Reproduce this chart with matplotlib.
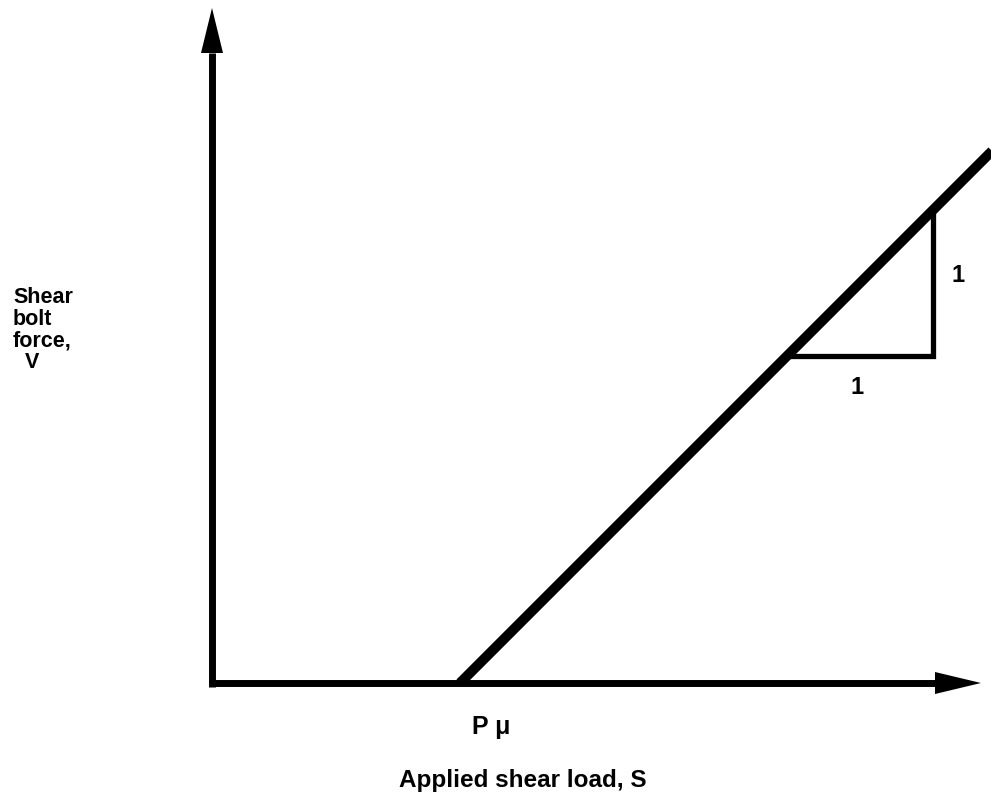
import matplotlib
matplotlib.use("Agg")
import matplotlib.pyplot as plt
from matplotlib.patches import Polygon
import numpy as np

# ---- data (diagram units, origin at axes corner) ----
p_mu = 248.0            # friction load P*mu where bolt starts to carry shear
slope = 1.0             # V/S slope after slip
line_x = [p_mu, 800.0]  # applied shear load S range of the rising branch
tri_x = [575.0, 721.0]  # slope triangle horizontal extent
x_axis_end = 723.0
y_axis_end = 630.0
labels_y = ["Shear", "bolt", "force,", "V"]
x_label = "Applied shear load, S"
pmu_label = "P \u03bc"
tri_labels = ["1", "1"]

fig = plt.figure(figsize=(9.91, 8.0), dpi=100)
ax = fig.add_axes([0, 0, 1, 1])
ax.set_xlim(-212, 779)
ax.set_ylim(-117, 683)
ax.axis("off")

k = "black"
# axes lines
ax.plot([-2, x_axis_end], [0, 0], color=k, lw=5.0, solid_capstyle="butt")
ax.plot([0, 0], [-3.5, y_axis_end], color=k, lw=5.0, solid_capstyle="butt")
# arrow heads
ax.add_patch(Polygon([[x_axis_end, 11], [x_axis_end + 46, 0], [x_axis_end, -11]], closed=True, color=k, lw=0))
ax.add_patch(Polygon([[-11, y_axis_end], [0, y_axis_end + 45], [11, y_axis_end]], closed=True, color=k, lw=0))

# rising branch
lx = np.array(line_x)
ly = slope * (lx - p_mu)
ax.plot(lx, ly, color=k, lw=7.2, solid_capstyle="butt")

# slope triangle
ty0 = slope * (tri_x[0] - p_mu)
ty1 = slope * (tri_x[1] - p_mu)
ax.plot([tri_x[0], tri_x[1], tri_x[1]], [ty0, ty0, ty1], color=k, lw=3.8,
        solid_joinstyle="miter", solid_capstyle="butt")

fam = ["Liberation Sans", "DejaVu Sans"]
fp = dict(family=fam, fontweight="bold", color=k)
ax.text((tri_x[0] + tri_x[1]) / 2 - 3, ty0 - 32, tri_labels[0], ha="center", va="center", fontsize=17, **fp)
ax.text(tri_x[1] + 25, (ty0 + ty1) / 2 + 7, tri_labels[1], ha="center", va="center", fontsize=17, **fp)

# y label block
ys = [380, 358, 336, 315]
xs = [-199, -199, -199, -187]
for t, xx, yy in zip(labels_y, xs, ys):
    ax.text(xx, yy, t, ha="left", va="baseline", fontsize=15.5, **fp)

ax.text(p_mu + 31, -51, pmu_label, ha="center", va="baseline", fontsize=18, **fp)
ax.text(311, -97, x_label, ha="center", va="center", fontsize=17.5, **fp)

fig.savefig("out.png", dpi=100)
